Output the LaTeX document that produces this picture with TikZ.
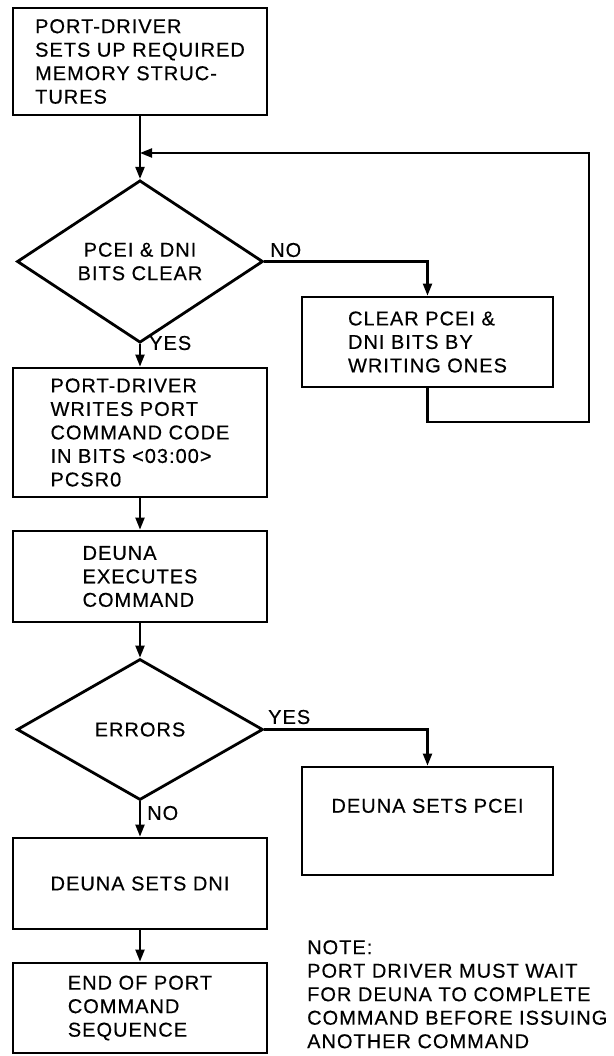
\documentclass[tikz,border=0pt]{standalone}
\usepackage{fontspec}
\setmainfont{Liberation Sans}[LetterSpace=5,FakeBold=0.4]
\usetikzlibrary{arrows.meta,shapes.geometric}
\begin{document}
\begin{tikzpicture}[x=1pt,y=-1pt,
  every node/.style={font=\fontsize{20}{23.5}\selectfont},
  box/.style={draw, line width=2.8pt, rectangle, align=left, inner sep=0pt},
  dia/.style={draw, line width=2.8pt, diamond, inner sep=0pt, align=center,
              minimum width=246pt},
  conn/.style={line width=2.1pt},
  arr/.style={conn, -{Triangle[length=12pt,width=9pt]}},
  lbl/.style={inner sep=0pt, anchor=west}]
\useasboundingbox (0,0) rectangle (613,1056);
\fill[white] (0,0) rectangle (613,1056);

% main column
\node[box, minimum width=254pt, minimum height=107pt] (b1) at (140,61.5)
  {PORT-DRIVER\\SETS UP REQUIRED\\MEMORY STRUC-\\TURES};
\node[dia, minimum height=143pt] (d1) at (140,261.5) {PCEI \& DNI\\BITS CLEAR};
\node[box, minimum width=254pt, minimum height=129pt] (b3) at (140,432.5)
  {PORT-DRIVER\\WRITES PORT\\COMMAND CODE\\IN BITS <03:00>\\PCSR0};
\node[box, minimum width=254pt, minimum height=91pt] (b4) at (140,576.5)
  {DEUNA\\EXECUTES\\COMMAND};
\node[dia, minimum height=141pt] (d2) at (140,729.5) {ERRORS};
\node[box, minimum width=254pt, minimum height=91pt, align=center] (b6) at (140,883.5)
  {DEUNA SETS DNI};
\node[box, minimum width=254pt, minimum height=90pt] (b7) at (140,1008)
  {END OF PORT\\COMMAND\\SEQUENCE};

% right column
\node[box, minimum width=251pt, minimum height=90pt] (b2) at (427.5,342)
  {CLEAR PCEI \&\\DNI BITS BY\\WRITING ONES};
\node[box, minimum width=251pt, minimum height=108pt, align=center] (b5) at (427.5,821)
  {DEUNA SETS PCEI\\\strut};

% note
\node[inner sep=0pt, anchor=north west, align=left] (note) at (307,940)
  {NOTE:\\PORT DRIVER MUST WAIT\\FOR DEUNA TO COMPLETE\\COMMAND BEFORE ISSUING\\ANOTHER COMMAND};

% connectors
\coordinate (j) at (b1.south |- 0,153);
\coordinate (c1) at (b2.north |- d1.east);
\coordinate (c2) at (b2.south |- 0,422);
\coordinate (c3) at (589,422);
\coordinate (c4) at (589,153);
\coordinate (c5) at (b5.north |- d2.east);

\draw[arr] (b1) -- (d1);
\draw[arr] (d1.east) -- (c1) -- (b2.north);
\draw[arr] (b2.south) -- (c2) -- (c3) -- (c4) -- (j);
\draw[arr] (d1.south) -- (b3.north);
\draw[arr] (b3) -- (b4);
\draw[arr] (b4) -- (d2);
\draw[arr] (d2.east) -- (c5) -- (b5.north);
\draw[arr] (d2.south) -- (b6.north);
\draw[arr] (b6) -- (b7);

% labels
\node[lbl] (no1) at (270,250) {NO};
\node[lbl] (yes1) at (149,343) {YES};
\node[lbl] (yes2) at (268,717) {YES};
\node[lbl] (no2) at (147,813) {NO};
\end{tikzpicture}
\end{document}
